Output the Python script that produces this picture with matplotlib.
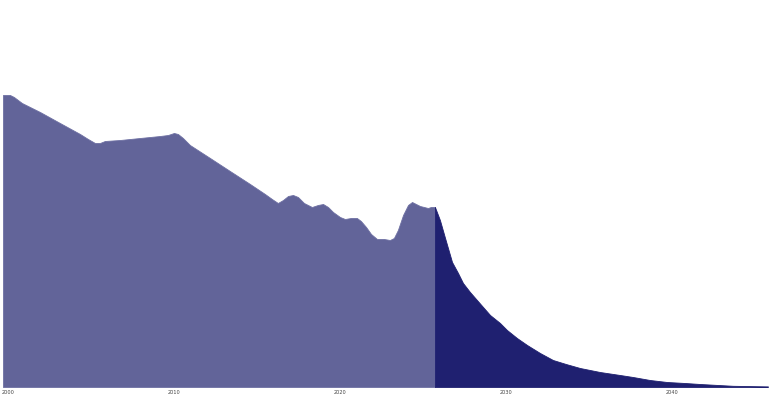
import matplotlib
matplotlib.use("Agg")
import matplotlib.pyplot as plt

# historical part (lighter fill)
hist_years = [1999.67, 2000.09, 2000.33, 2000.81, 2001.90, 2003.10, 2004.31, 2004.79,
              2005.21, 2005.51, 2005.81, 2006.72, 2007.92, 2009.13, 2009.61, 2009.97,
              2010.21, 2010.51, 2010.93, 2012.14, 2013.34, 2014.55, 2015.45, 2015.87,
              2016.23, 2016.54, 2016.84, 2017.14, 2017.44, 2017.80, 2018.28, 2018.64,
              2018.95, 2019.25, 2019.55, 2019.97, 2020.27, 2020.63, 2020.99, 2021.23,
              2021.54, 2021.84, 2022.20, 2022.62, 2022.98, 2023.22, 2023.46, 2023.77,
              2024.07, 2024.31, 2024.55, 2024.79, 2025.03, 2025.27, 2025.45, 2025.69]
hist_values = [292, 292, 290, 284, 275, 264, 253, 248,
               244, 244, 246, 247, 249, 251, 252, 254,
               253, 249, 242, 229, 216, 203, 193, 188,
               184, 187, 191, 192, 190, 184, 180, 182,
               183, 180, 175, 170, 168, 169, 169, 166,
               160, 153, 148, 148, 147, 149, 157, 172,
               182, 185, 183, 181, 180, 179, 180, 180]

# projection (dark fill)
proj_years = [2025.69, 2025.99, 2026.30, 2026.72, 2027.08, 2027.38, 2027.80, 2028.22,
              2028.64, 2029.01, 2029.61, 2030.03, 2030.63, 2031.24, 2032.02, 2032.80,
              2033.58, 2034.43, 2035.63, 2036.84, 2037.62, 2038.64, 2039.67, 2040.75,
              2041.66, 2043.64, 2045.75]
proj_values = [180, 167, 149, 125, 114, 104, 95, 87,
               79, 72, 64, 57, 49, 42, 34, 27,
               23, 19, 15, 12, 10, 7, 5, 4,
               3, 1.2, 0.6]

tick_years = [2000, 2010, 2020, 2030, 2040]

fig = plt.figure(figsize=(7.7, 4.0), dpi=100)
ax = fig.add_axes([0, 13 / 400, 1, 387 / 400])

ax.fill_between(hist_years, hist_values, 0, color="#626499", linewidth=0.6,
                edgecolor="#6e70a3")
ax.fill_between(proj_years, proj_values, 0, color="#1f2070", linewidth=0.6,
                edgecolor="#1f2070")

ax.set_xlim(1999.49, 1999.49 + 770 / 16.6)
ax.set_ylim(0, 387)

ax.set_xticks(tick_years)
ax.set_xticklabels([str(y) for y in tick_years], fontsize=3.6, color="#444444")
ax.tick_params(axis="x", length=0, pad=1.8)
ax.set_yticks([])
for s in ax.spines.values():
    s.set_visible(False)

fig.savefig("out.png", dpi=100)
